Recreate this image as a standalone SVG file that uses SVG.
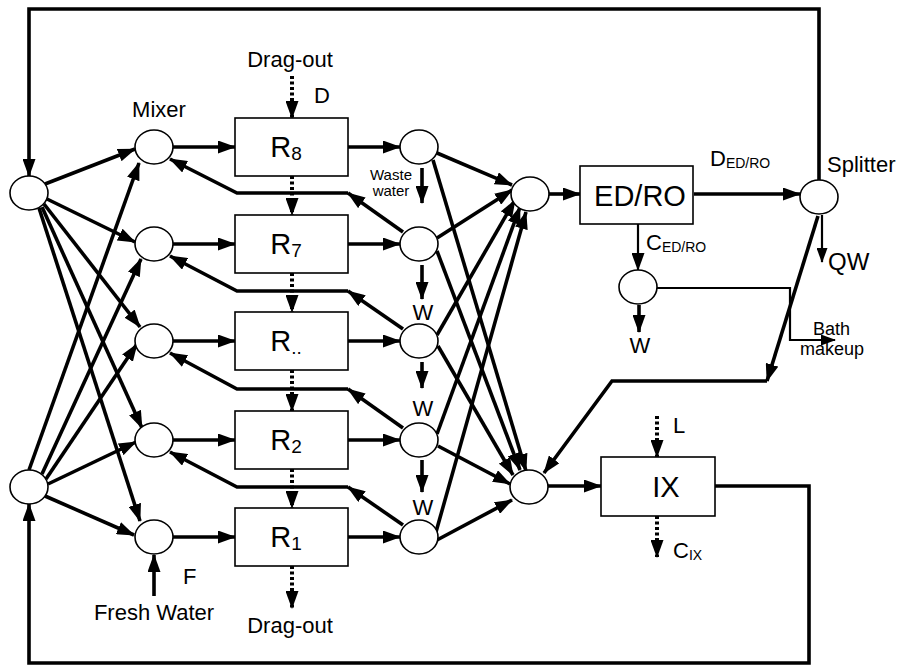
<svg xmlns="http://www.w3.org/2000/svg" width="901" height="666" viewBox="0 0 901 666">
<style>
text{font-family:"Liberation Sans",Arial,sans-serif;fill:#000}
.n{fill:#fff;stroke:#000;stroke-width:1.6}
.b{fill:#fff;stroke:#000;stroke-width:1.6}
.t{fill:none;stroke:#000;stroke-width:3.6}
.m{fill:none;stroke:#000;stroke-width:2.2}
.d{fill:none;stroke:#000;stroke-width:4;stroke-dasharray:3 2.5}
.a{marker-end:url(#ah)}
.s{marker-end:url(#as)}
.lbl{font-size:22px}
.box{font-size:29px;text-anchor:middle}
</style>
<defs>
<marker id="ah" markerUnits="userSpaceOnUse" viewBox="0 0 18 13" markerWidth="18" markerHeight="13" refX="17" refY="6.5" orient="auto"><path d="M0,0 L18,6.5 L0,13 z" fill="#000"/></marker>
<marker id="as" markerUnits="userSpaceOnUse" viewBox="0 0 15 11" markerWidth="15" markerHeight="11" refX="14" refY="5.5" orient="auto"><path d="M0,0 L15,5.5 L0,11 z" fill="#000"/></marker>
</defs>

<g id="connectors">
<!-- feedback loops -->
<path class="t a" d="M819,180 V9 H29 V176"/>
<path class="t a" d="M715,486 H809 V663 H29 V504"/>
<!-- top-left splitter to mixers -->
<path class="t a" d="M45,184 L135,149"/>
<path class="t a" d="M47,199 L135,242"/>
<path class="t a" d="M44,204 L140,327"/>
<path class="t a" d="M42,207 L142,428"/>
<path class="t a" d="M39,208 L140,521"/>
<!-- bottom-left splitter to mixers -->
<path class="t a" d="M29,470 L139,163"/>
<path class="t a" d="M42,474 L141,259"/>
<path class="t a" d="M46,479 L137,344"/>
<path class="t a" d="M48,484 L136,442"/>
<path class="t a" d="M45,496 L134,535"/>
<!-- mixers to boxes -->
<path class="t a" d="M173,147 H235"/>
<path class="t a" d="M173,244 H235"/>
<path class="t a" d="M173,341 H235"/>
<path class="t a" d="M173,440 H235"/>
<path class="t a" d="M173,537 H235"/>
<!-- boxes to splitters -->
<path class="t a" d="M348,147 H400"/>
<path class="t a" d="M348,244 H400"/>
<path class="t a" d="M348,341 H400"/>
<path class="t a" d="M348,440 H400"/>
<path class="t a" d="M348,537 H400"/>
<!-- recycle streams back to previous mixer -->
<path class="t a" d="M403,232 L348,193"/>
<path class="t a" d="M348,193 H237 L170,159"/>
<path class="t a" d="M403,329 L348,291"/>
<path class="t a" d="M348,291 H237 L170,256"/>
<path class="t a" d="M403,428 L348,389"/>
<path class="t a" d="M348,389 H237 L170,353"/>
<path class="t a" d="M403,525 L348,487"/>
<path class="t a" d="M348,487 H237 L170,452"/>
<!-- waste water -->
<path class="t a" d="M422,168 V203"/>
<path class="t a" d="M422,265 V299"/>
<path class="t a" d="M422,362 V388"/>
<path class="t a" d="M422,460 V492"/>
<!-- splitters to top collector -->
<path class="t a" d="M437,153 L512,185"/>
<path class="t a" d="M437,238 L512,190"/>
<path class="t a" d="M437,335 L515,200"/>
<path class="t a" d="M437,434 L520,207"/>
<path class="t a" d="M436,532 L526,212"/>
<!-- splitters to bottom collector -->
<path class="t a" d="M433,160 L526,471"/>
<path class="t a" d="M437,251 L520,470"/>
<path class="t a" d="M438,346 L513,475"/>
<path class="t a" d="M438,446 L510,484"/>
<path class="t a" d="M437,540 L512,500"/>
<!-- collectors to treatment -->
<path class="t a" d="M549,194 H580"/>
<path class="t a" d="M548,486 H601"/>
<path class="t a" d="M694,194 H800"/>
<path class="m a" d="M638,224 V270"/>
<path class="t a" d="M639,305 V332"/>
<path class="m s" d="M657,288 H790 V340 H835"/>
<path class="m s" d="M822,215 V262"/>
<path class="t a" d="M818,216 L767,381"/>
<path class="t a" d="M767,381 H612 L544,473"/>
<!-- drag-out dotted -->
<path class="d a" d="M292,76 V118"/>
<path class="d a" d="M292,176 V215"/>
<path class="d a" d="M292,273 V312"/>
<path class="d a" d="M292,370 V411"/>
<path class="d a" d="M292,469 V508"/>
<path class="d a" d="M292,566 V608"/>
<path class="d a" d="M657,416 V457"/>
<path class="d a" d="M657,516 V557"/>
<!-- fresh water -->
<path class="t a" d="M154,596 V555"/>
</g>

<g id="splitter-top-left"><ellipse class="n" cx="29" cy="193" rx="19" ry="17"/></g>
<g id="splitter-bottom-left"><ellipse class="n" cx="29" cy="487" rx="19" ry="17"/></g>

<g id="mixer-8"><ellipse class="n" cx="154" cy="147" rx="19" ry="17"/></g>
<g id="mixer-7"><ellipse class="n" cx="154" cy="244" rx="19" ry="17"/></g>
<g id="mixer-n"><ellipse class="n" cx="154" cy="341" rx="19" ry="17"/></g>
<g id="mixer-2"><ellipse class="n" cx="154" cy="440" rx="19" ry="17"/></g>
<g id="mixer-1"><ellipse class="n" cx="154" cy="537" rx="19" ry="17"/></g>

<g id="R8"><rect class="b" x="235" y="118" width="113" height="58"/><text class="box" x="286" y="157">R<tspan font-size="19" dy="3">8</tspan></text></g>
<g id="R7"><rect class="b" x="235" y="215" width="113" height="58"/><text class="box" x="286" y="254">R<tspan font-size="19" dy="3">7</tspan></text></g>
<g id="Rn"><rect class="b" x="235" y="312" width="113" height="58"/><text class="box" x="286" y="351">R<tspan font-size="19" dy="3">..</tspan></text></g>
<g id="R2"><rect class="b" x="235" y="411" width="113" height="58"/><text class="box" x="286" y="450">R<tspan font-size="19" dy="3">2</tspan></text></g>
<g id="R1"><rect class="b" x="235" y="508" width="113" height="58"/><text class="box" x="286" y="547">R<tspan font-size="19" dy="3">1</tspan></text></g>

<g id="split-8"><ellipse class="n" cx="419" cy="147" rx="19" ry="17"/></g>
<g id="split-7"><ellipse class="n" cx="419" cy="244" rx="19" ry="17"/></g>
<g id="split-n"><ellipse class="n" cx="419" cy="341" rx="19" ry="17"/></g>
<g id="split-2"><ellipse class="n" cx="419" cy="440" rx="19" ry="17"/></g>
<g id="split-1"><ellipse class="n" cx="419" cy="537" rx="19" ry="17"/></g>

<g id="collector-top"><ellipse class="n" cx="530" cy="194" rx="19" ry="17"/></g>
<g id="collector-bottom"><ellipse class="n" cx="529" cy="487" rx="19" ry="17"/></g>

<g id="EDRO"><rect class="b" x="580" y="166" width="113" height="58"/><text class="box" x="640" y="206">ED/RO</text></g>
<g id="concentrate-mixer"><ellipse class="n" cx="638" cy="287" rx="19" ry="17"/></g>
<g id="splitter-right"><ellipse class="n" cx="819" cy="197" rx="19" ry="17"/></g>
<g id="IX"><rect class="b" x="601" y="457" width="114" height="59"/><text class="box" x="666" y="497">IX</text></g>

<g id="labels">
<text class="lbl" x="290" y="67" text-anchor="middle">Drag-out</text>
<text class="lbl" x="290" y="633" text-anchor="middle">Drag-out</text>
<text class="lbl" x="314" y="103">D</text>
<text class="lbl" x="159" y="117" text-anchor="middle">Mixer</text>
<text class="lbl" x="183" y="584">F</text>
<text class="lbl" x="154" y="620" text-anchor="middle">Fresh Water</text>
<text x="391" y="180" font-size="15" text-anchor="middle">Waste</text>
<text x="391" y="196" font-size="15" text-anchor="middle">water</text>
<text class="lbl" x="423" y="320" text-anchor="middle">W</text>
<text class="lbl" x="423" y="416" text-anchor="middle">W</text>
<text class="lbl" x="423" y="515" text-anchor="middle">W</text>
<text class="lbl" x="640" y="353" text-anchor="middle">W</text>
<text class="lbl" x="710" y="166">D<tspan font-size="14" dy="2">ED/RO</tspan></text>
<text class="lbl" x="646" y="250">C<tspan font-size="14" dy="2">ED/RO</tspan></text>
<text class="lbl" x="827" y="172">Splitter</text>
<text x="828" y="270" font-size="24">QW</text>
<text x="813" y="335" font-size="18">Bath</text>
<text x="800" y="355" font-size="18">makeup</text>
<text class="lbl" x="673" y="433">L</text>
<text class="lbl" x="673" y="558">C<tspan font-size="14" dy="2">IX</tspan></text>
</g>
</svg>
